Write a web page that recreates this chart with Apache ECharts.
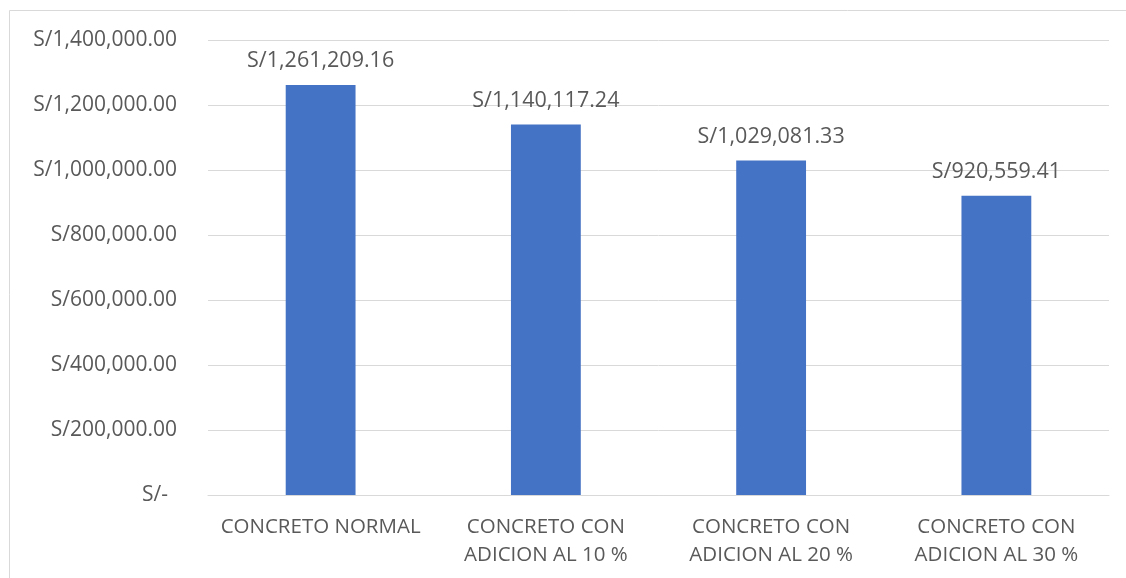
<!DOCTYPE html>
<html>
<head>
<meta charset="utf-8">
<script src="https://cdn.jsdelivr.net/npm/echarts@6/dist/echarts.min.js"></script>
<style>
  html, body { margin: 0; padding: 0; background: #fff; }
  #chart { width: 1126px; height: 578px; }
</style>
</head>
<body>
<div id="chart"></div>
<script>
// Cost of concrete per mix
const categories = [
  'CONCRETO NORMAL',
  'CONCRETO CON\nADICION AL 10 %',
  'CONCRETO CON\nADICION AL 20 %',
  'CONCRETO CON\nADICION AL 30 %'
];
const costs = [1261209.16, 1140117.24, 1029081.33, 920559.41];
const yMax = 1400000;
const yStep = 200000;

const FONT = '"Open Sans", "Noto Sans", sans-serif';
const TEXT = '#595959';

function money(v) {
  if (v === 0) return 'S/-';
  return 'S/' + v.toLocaleString('en-US', { minimumFractionDigits: 2, maximumFractionDigits: 2 });
}

const chart = echarts.init(document.getElementById('chart'), null, { renderer: 'canvas' });
chart.setOption({
  animation: false,
  backgroundColor: '#fff',
  graphic: [{
    type: 'rect',
    shape: { x: 9.5, y: 10.5, width: 1300, height: 700 },
    style: { fill: 'none', stroke: '#d9d9d9', lineWidth: 1 },
    silent: true
  }],
  grid: { left: 208, right: 17, top: 40, bottom: 83 },
  xAxis: {
    type: 'category',
    data: categories,
    axisLine: { lineStyle: { color: '#d9d9d9', width: 1 } },
    axisTick: { show: false },
    axisLabel: {
      color: TEXT, fontFamily: FONT, fontSize: 20.5, lineHeight: 28, margin: 18,
      interval: 0
    }
  },
  yAxis: {
    type: 'value',
    min: 0, max: yMax, interval: yStep,
    axisLine: { show: false },
    axisTick: { show: false },
    splitLine: { lineStyle: { color: '#d9d9d9', width: 1 } },
    axisLabel: {
      color: TEXT, fontFamily: FONT, fontSize: 21, margin: 31,
      formatter: function (v) {
        return v === 0 ? '{z|S/-}' : money(v);
      },
      rich: { z: { color: TEXT, fontFamily: FONT, fontSize: 21, padding: [0, 9, 0, 0] } }
    }
  },
  series: [{
    type: 'bar',
    data: costs,
    barWidth: '31%',
    itemStyle: { color: '#4472C4' },
    label: {
      show: true, position: 'top', distance: 13,
      color: TEXT, fontFamily: FONT, fontSize: 21.5,
      formatter: function (p) { return money(p.value); }
    }
  }]
});
</script>
</body>
</html>
